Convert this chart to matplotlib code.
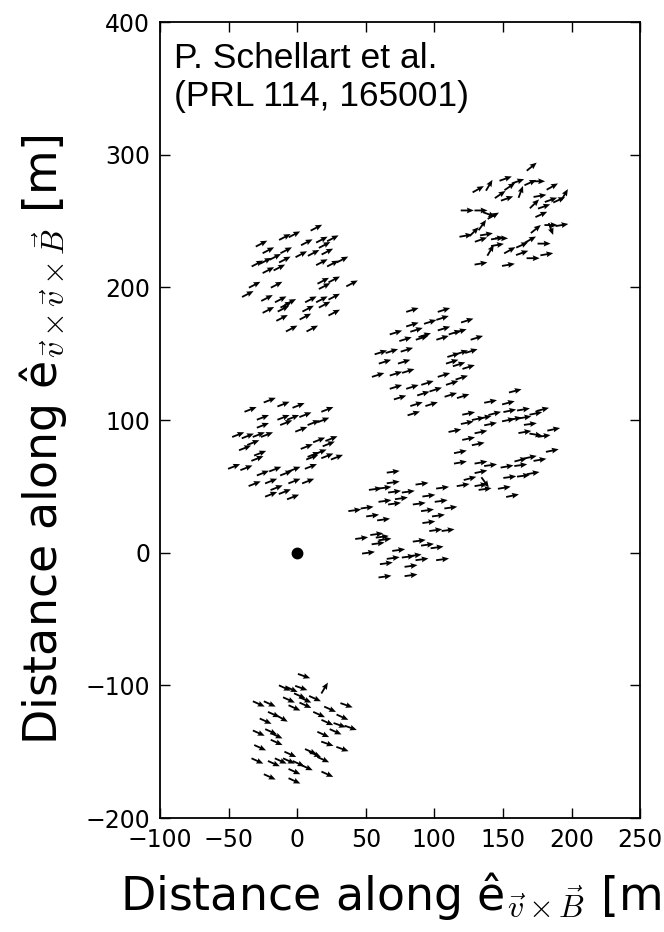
import matplotlib
matplotlib.use('Agg')
import matplotlib.pyplot as plt
import numpy as np

plt.rcParams['font.family'] = ['DejaVu Sans']
plt.rcParams['mathtext.fontset'] = 'cm'

# antenna positions per station (m) and field direction (deg)
a_x = [14, -9, -2, -26, 7, 18, 26, -21, -8, 20, 3, 12, 22, -29, -23, -16, -9, -21, -13, 18, 26, 33,
       -31, -15, 19, 27, 20, 40, -36, -22, -12, -5, -8, 10, 18, 27, -21, -10, 8, 20, 27, -11, 6, -4, 11]
a_y = [245, 238, 240, 233, 234, 236, 237, 228, 228, 232, 225, 226, 227, 218, 220, 223, 221, 213, 215, 219, 218, 221,
       202, 202, 205, 206, 201, 203, 195, 192, 191, 189, 187, 191, 191, 193, 183, 184, 184, 187, 181, 177, 178, 169, 169]
a_ang = [28]

b_x = [171, 132, 140, 152, 161, 155, 148, 153, 163, 170, 176, 186, 177, 173, 185, 191, 195, 180, 178, 124, 134, 140, 143,
       135, 129, 123, 138, 134, 146, 149, 174, 185, 193, 185, 141, 146, 155, 164, 170, 180, 164, 172, 182, 134, 154]
b_y = [291, 274, 277, 282, 280, 276, 270, 267, 272, 279, 280, 276, 269, 263, 266, 266, 270, 261, 255, 258, 258, 255, 254,
       247, 242, 239, 240, 236, 237, 237, 244, 247, 247, 244, 228, 232, 228, 232, 236, 233, 226, 222, 225, 218, 217]
b_ang = [40, 30, 60, 20, 20, 35, 35, 20, 70, 25, 0, 30, 10, 45, 20, 25, 60, 20, 25, 0, 0, -20, 30,
         55, 45, 10, 10, 20, 10, 0, 40, 0, 10, -70, 60, 10, 30, 25, 30, 0, 20, 0, 10, 10, 10]

c_x = [84, 107, 84, 97, 106, 124, 72, 87, 93, 107, 115, 119, 79, 91, 106, 131, 61, 69, 80, 114, 120, 127,
       64, 78, 113, 118, 59, 72, 81, 125, 107, 120, 72, 84, 95, 113, 75, 92, 101, 112, 121, 87, 98, 85]
c_y = [183, 183, 172, 174, 177, 175, 166, 168, 164, 169, 166, 167, 161, 162, 162, 162, 151, 152, 153, 149, 151, 152,
       144, 144, 144, 142, 134, 135, 137, 140, 134, 132, 125, 125, 128, 128, 117, 120, 123, 119, 118, 112, 112, 105]
c_ang = [18]

d_x = [-20, -10, 1, -34, 22, -25, -10, -3, 6, -8, 12, 19, -25, 3, -43, -36, -28, -22, -32, -38, 16, 25, 7,
       23, -27, -29, 12, 17, 11, 22, 29, -46, -37, -25, -16, -8, -2, 10, -31, -19, -2, 8, -15, -19, -9, -3]
d_y = [115, 112, 111, 108, 108, 102, 102, 102, 104, 98, 98, 100, 96, 93, 89, 88, 89, 89, 83, 79, 85, 86, 80,
       82, 75, 71, 74, 76, 72, 73, 72, 65, 64, 60, 63, 60, 63, 65, 52, 54, 54, 54, 49, 44, 46, 42]
d_ang = [22]

e_x = [159, 141, 154, 125, 132, 137, 144, 155, 165, 174, 179, 124, 141, 154, 159, 166, 170, 115, 134, 166, 174, 180, 187,
       125, 132, 119, 186, 119, 134, 141, 153, 163, 170, 177, 163, 134, 126, 155, 165, 172, 121, 134, 137, 137, 151, 157]
e_y = [122, 114, 113, 105, 101, 102, 105, 107, 108, 105, 108, 98, 97, 100, 101, 102, 97, 92, 91, 91, 89, 88, 93,
       86, 82, 76, 77, 68, 68, 66, 65, 70, 72, 70, 66, 61, 56, 57, 58, 60, 51, 51, 53, 48, 49, 43]
e_ang = [15, 12, 15, 12, 12, 12, 15, 12, 10, 12, 15, 12, 12, 12, 12, 10, 8, 12, 12, 10, -10, 8, 12,
         12, 12, 12, 12, 10, 10, 8, 10, 15, 12, 10, 8, 12, 15, 8, 8, 10, 10, 10, -55, 8, 10, 12]

f_x = [70, 70, 91, 57, 64, 71, 81, 106, 64, 76, 96, 71, 89, 105, 42, 51, 55, 63, 95, 112, 103, 96,
       101, 110, 47, 58, 62, 59, 64, 89, 95, 102, 52, 74, 70, 81, 86, 91, 106, 65, 83, 64, 83]
f_y = [61, 53, 52, 48, 49, 46, 46, 49, 39, 41, 43, 37, 37, 39, 32, 34, 28, 25, 32, 34, 28, 23,
       17, 17, 11, 14, 12, 7, 10, 9, 6, 4, 0, 2, -4, -3, -2, -5, -5, -8, -10, -18, -17]
f_ang = [8]

g_x = [5, -9, -4, 3, 20, -6, 2, 6, 13, -28, -20, -2, 6, 36, -17, -11, 16, 24, -23, 22, 33, 31, 39,
       -28, -19, -15, 19, 28, -15, 22, 33, -27, 10, 13, -5, -12, -6, 1, 7, 19, -29, -17, -2, 22, -20, -2]
g_y = [-93, -102, -103, -102, -102, -111, -108, -111, -110, -114, -114, -117, -115, -115, -122, -125, -122, -118,
       -127, -128, -124, -130, -132, -136, -135, -138, -137, -135, -143, -144, -148, -147, -150, -152, -152,
       -157, -157, -159, -162, -156, -157, -159, -165, -167, -169, -172]
g_ang = [-20, -25, -25, -20, 60, -25, -25, -25, -25, -25, -25, -25, -25, -20, -25, -30, -25, -25, -25, -25, -25, -20, -20,
         -25, -25, -25, -25, -25, -25, -20, -20, -25, -25, -25, -25, -25, -25, -25, -25, -25, -25, -25, -25, -25, -25, -25]

core_x = [0]
core_y = [0]

stations = [(a_x, a_y, a_ang), (b_x, b_y, b_ang), (c_x, c_y, c_ang), (d_x, d_y, d_ang),
            (e_x, e_y, e_ang), (f_x, f_y, f_ang), (g_x, g_y, g_ang)]

fig = plt.figure(figsize=(6.64, 9.32), dpi=100)
ax = fig.add_axes([0.241, 0.1223, 0.723, 0.854])

L = 9.5
for sx, sy, ang in stations:
    th = np.deg2rad(np.array(ang, dtype=float)) * np.ones(len(sx))
    ax.quiver(sx, sy, L*np.cos(th), L*np.sin(th), angles='xy', scale_units='xy', scale=1,
              pivot='middle', color='k', width=0.0038, headwidth=3.2, headlength=3.8, headaxislength=3.4)

ax.plot(core_x, core_y, 'o', color='k', markersize=7.5)

ax.set_xlim(-100, 250)
ax.set_ylim(-200, 400)
ax.set_xticks([-100, -50, 0, 50, 100, 150, 200, 250])
ax.set_yticks([-200, -100, 0, 100, 200, 300, 400])
ax.tick_params(direction='in', top=True, right=True, length=7, width=1, labelsize=17, pad=7)
for s in ax.spines.values():
    s.set_linewidth(1.3)

ax.set_xlabel('Distance along ê$_{\\vec{v}\\times\\vec{B}}$ [m]', fontsize=33)
ax.set_ylabel('Distance along ê$_{\\vec{v}\\times\\vec{v}\\times\\vec{B}}$ [m]', fontsize=33)
ax.xaxis.set_label_coords(0.5, -0.065)
ax.yaxis.set_label_coords(-0.19, 0.475)

ax.text(0.03, 0.975, 'P. Schellart et al.\n(PRL 114, 165001)', transform=ax.transAxes,
        ha='left', va='top', fontsize=25.5, family='Liberation Sans', linespacing=1.2)

fig.savefig('out.png', dpi=100)
